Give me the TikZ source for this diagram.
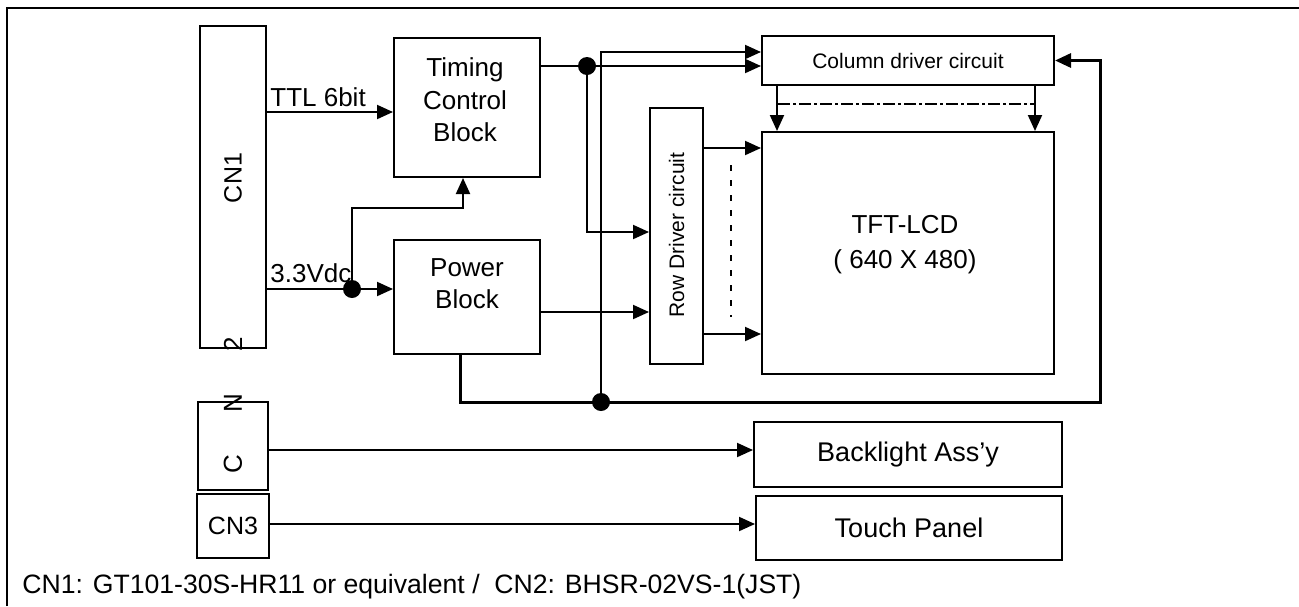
\documentclass[tikz,border=0pt]{standalone}
\usepackage{fontspec}
\setmainfont{Liberation Sans}
\usetikzlibrary{arrows.meta, positioning, calc}

\begin{document}
\begin{tikzpicture}[x=0.5pt, y=-0.5pt,
          blockbox/.style={rectangle, draw=black, line width=1pt, inner sep=0pt, align=center, font=\fontsize{13}{16.2}\selectfont},
          drvbox/.style={rectangle, draw=black, line width=1pt, inner sep=0pt, font=\fontsize{10.5}{12}\selectfont},
          conbox/.style={rectangle, draw=black, line width=1pt, inner sep=0pt, font=\fontsize{12.5}{15}\selectfont},
          lbl/.style={inner sep=0pt, font=\fontsize{13}{16}\selectfont},
          junction/.style={circle, fill=black, inner sep=0pt, minimum size=9pt},
          conn/.style={line width=1pt, -{Triangle[length=8pt, width=7pt]}},
          wire/.style={line width=1pt},
          connbus/.style={line width=1.5pt, -{Triangle[length=8pt, width=7pt]}}
        ]
          \useasboundingbox (0,0) rectangle (1299,606);

          % Frame
          \draw[line width=1pt] (7,606) -- (7,8) -- (1299,8);

          % Connectors on the left
          \node[conbox, minimum width=33pt, minimum height=161pt] (cn1) at (233,187) {};
          \node[lbl, rotate=90, font=\fontsize{12.5}{15}\selectfont] (cn1txt) at (233,178) {CN1};
          \node[conbox, minimum width=35pt, minimum height=44pt] (cn2) at (233,446) {};
          \node[lbl, rotate=90] (cn2c) at (233,464) {C};
          \node[lbl, rotate=90] (cn2n) at (233,403) {N};
          \node[lbl, rotate=90] (cn2two) at (233,344) {2};
          \node[conbox, minimum width=36pt, minimum height=32pt] (cn3) at (233,526) {CN3};

          % Blocks
          \node[blockbox, minimum width=73pt, minimum height=69.5pt] (timing) at (467,107.5) {};
          \node[lbl, align=center, font=\fontsize{13}{16.2}\selectfont] (timingtxt) at (465,100) {Timing\\Control\\Block};
          \node[blockbox, minimum width=73pt, minimum height=57pt] (power) at (467,297) {};
          \node[lbl, align=center, font=\fontsize{13}{16}\selectfont] (powertxt) at (467,284) {Power\\Block};
          \node[drvbox, minimum width=146pt, minimum height=24.5pt] (coldrv) at (908,60.5) {Column driver circuit};
          \node[drvbox, minimum width=26.5pt, minimum height=128pt] (rowdrv) at (676.5,236) {};
          \node[lbl, rotate=90, font=\fontsize{10.5}{12}\selectfont] (rowtxt) at (676.5,235) {Row Driver circuit};
          \node[blockbox, minimum width=146pt, minimum height=121pt] (tft) at (908,253) {};
          \node[lbl, align=center, font=\fontsize{13}{17.5}\selectfont] (tfttxt) at (905,245) {TFT-LCD\\( 640 X 480)};
          \node[blockbox, minimum width=154pt, minimum height=32.5pt, font=\fontsize{13.5}{16}\selectfont] (backlight) at (908,454.5) {Backlight Ass'y};
          \node[blockbox, minimum width=153pt, minimum height=32pt, font=\fontsize{13.5}{16}\selectfont] (touch) at (909,528) {Touch Panel};

          % Junctions
          \node[junction] (vdot) at (352,289) {};
          \node[junction] (tdot) at (587,66) {};
          \node[junction] (bdot) at (601,402) {};

          \coordinate (ttl) at (266,112);
          \coordinate (vin) at (266,289);
          \coordinate (vtap) at (463,208);
          \coordinate (pwrout) at (540,312);
          \coordinate (pwrdn) at (460,354);
          \coordinate (ret) at (1100,402);

          % Connections
          \draw[conn] (ttl) -- (ttl -| timing.west);
          \node[lbl, anchor=base west] (ttllbl) at (270,106) {TTL 6bit};
          \draw[wire] (vin) -- (vdot);
          \draw[conn] (vdot) -- (vdot -| power.west);
          \node[lbl, anchor=base west] (vinlbl) at (270,282) {3.3Vdc};
          \draw[conn] (vdot) |- (vtap) -- (vtap |- timing.south);

          \draw[wire] (tdot -| timing.east) -- (tdot);
          \draw[conn] (tdot) -- (tdot -| coldrv.west);
          \draw[conn] (tdot) |- ([yshift=2pt]rowdrv.west);
          \draw[conn] (bdot) |- ([yshift=4.25pt]coldrv.west);
          \draw[conn] (pwrout) -- (pwrout -| rowdrv.west);
          \draw[connbus] (pwrdn) |- (ret) |- (coldrv.east);

          \draw[conn] ([xshift=8pt]coldrv.south west) -- ([xshift=8pt]tft.north west);
          \draw[conn] ([xshift=-10pt]coldrv.south east) -- ([xshift=-10pt]tft.north east);
          \draw[line width=1pt, dash pattern=on 6pt off 1.5pt on 1.5pt off 1.5pt] (778,104) -- (1034,104);

          \draw[conn] ([yshift=44pt]rowdrv.east) -- ([yshift=44pt]rowdrv.east -| tft.west);
          \draw[conn] ([yshift=-49pt]rowdrv.east) -- ([yshift=-49pt]rowdrv.east -| tft.west);
          \draw[line width=1pt, dash pattern=on 3pt off 4.5pt] (731,165) -- (731,317);

          \draw[conn] ([yshift=-2pt]cn2.east) -- ([yshift=-2pt]cn2.east -| backlight.west);
          \draw[conn] ([yshift=1pt]cn3.east) -- ([yshift=1pt]cn3.east -| touch.west);

          % Footer
          \node[lbl, anchor=base west, font=\fontsize{13.3}{16}\selectfont] (note) at (22,593) {CN1: GT101-30S-HR11 or equivalent /\ \ CN2: BHSR-02VS-1(JST)};
        \end{tikzpicture}
\end{document}
